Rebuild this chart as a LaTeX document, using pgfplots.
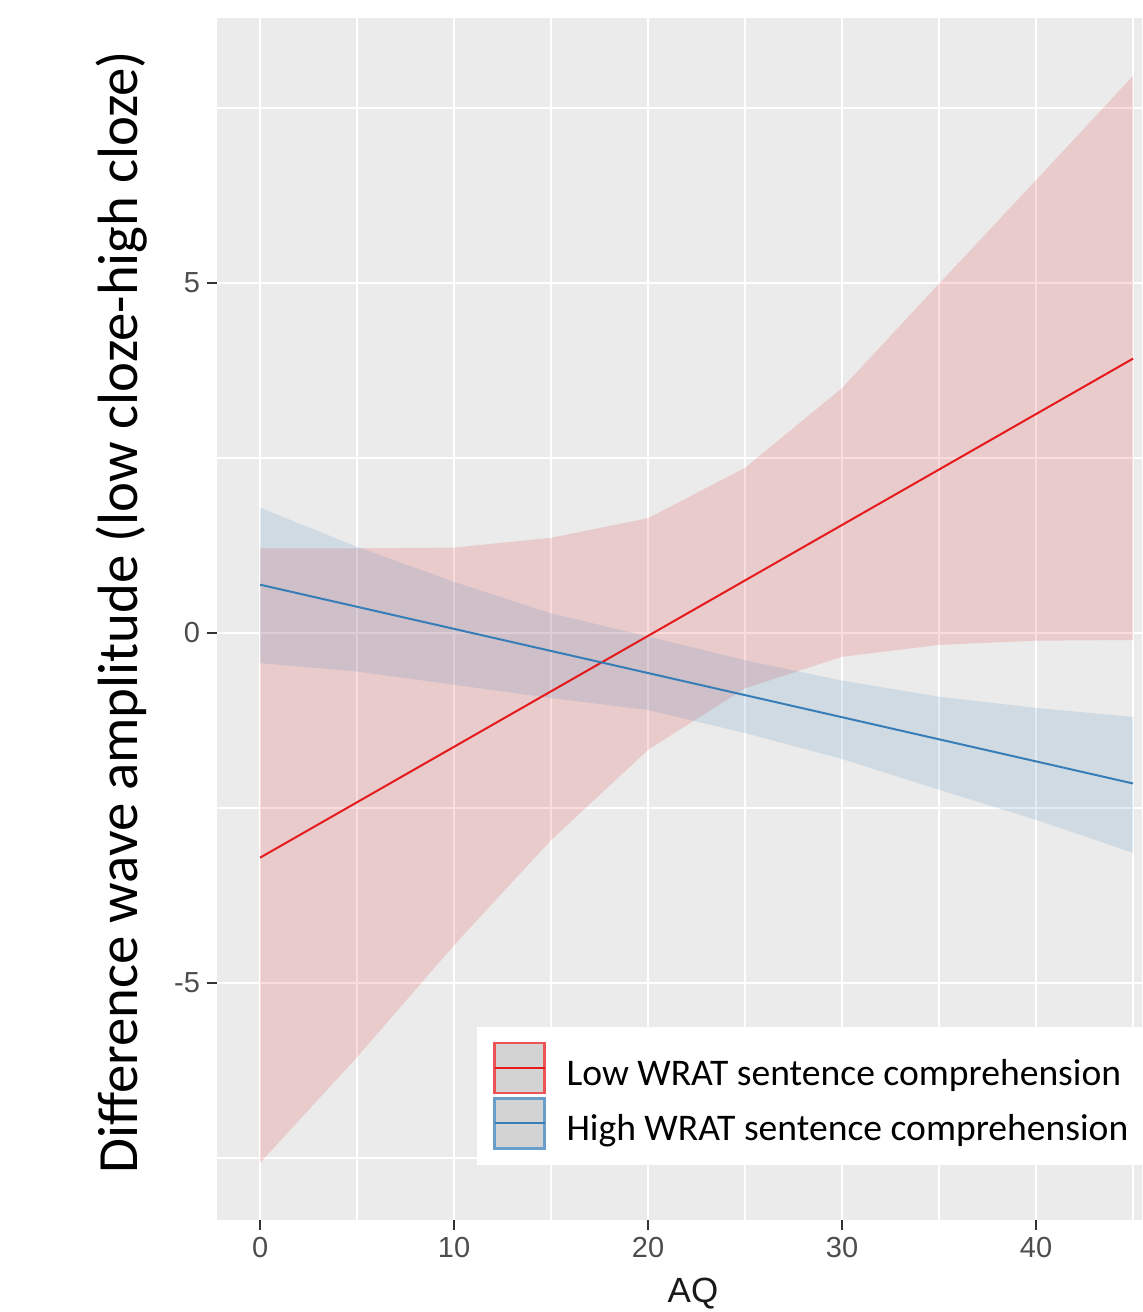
\documentclass[border=0pt]{standalone}
\usepackage{fontspec}
\setmainfont{Liberation Sans}
\newfontfamily\carlito{Carlito}
\usepackage{pgfplots}
\pgfplotsset{compat=1.18}
\definecolor{panel}{HTML}{EBEBEB}
\definecolor{lred}{HTML}{E41A1C}
\definecolor{lblue}{HTML}{377EB8}
\definecolor{tickc}{HTML}{4D4D4D}
\definecolor{tickm}{HTML}{333333}
\definecolor{keyfill}{HTML}{D3D3D3}
\begin{document}
\begin{tikzpicture}
\useasboundingbox (-108.5pt,-46pt) rectangle (462.5pt,610pt);
\begin{axis}[
  scale only axis, width=462.5pt, height=601pt,
  xmin=-2.22, xmax=45.46, ymin=-8.386, ymax=8.786,
  axis background/.style={fill=panel},
  axis line style={draw=none},
  xtick={0,10,20,30,40}, xticklabels={0,10,20,30,40},
  ytick={-5,0,5}, yticklabels={-5,0,5},
  minor xtick={5,15,25,35,45}, minor ytick={-7.5,-2.5,2.5,7.5},
  grid=both,
  major grid style={white, line width=1.4pt},
  minor grid style={white, line width=1.1pt},
  tick align=outside, major tick length=5pt, minor tick length=0pt,
  tick style={tickm, line width=1pt},
  xtick pos=left, ytick pos=left,
  tick label style={font=\fontsize{14.5}{16}\selectfont, text=tickc},
  xlabel={AQ},
  xlabel style={at={(axis description cs:0.5146,-0.0608)}, anchor=center, font=\fontsize{17.5}{20}\selectfont, text=black!90},
  ylabel={Difference wave amplitude (low cloze-high cloze)},
  ylabel style={at={(axis description cs:-0.1027,0.5058)}, anchor=center, font=\carlito\fontsize{28.4}{32}\selectfont},
  legend style={at={(axis description cs:0.2811,0.0458)}, anchor=south west, draw=none, fill=white,
    font=\carlito\fontsize{18.8}{22}\selectfont, inner xsep=8pt, inner ysep=7.5pt, row sep=1.5pt},
  legend cell align=left,
]
% red ribbon
\addplot[draw=none, fill=lred, fill opacity=0.15, forget plot] coordinates {
 (0,1.21) (5,1.21) (10,1.22) (15,1.36) (20,1.64) (25,2.36) (30,3.5) (35,4.99) (40,6.47) (45,7.96)
 (45,-0.1) (40,-0.11) (35,-0.17) (30,-0.34) (25,-0.79) (20,-1.67) (15,-2.96) (10,-4.46) (5,-6.06) (0,-7.57) (0,1.21)};
% blue ribbon
\addplot[draw=none, fill=lblue, fill opacity=0.15, forget plot] coordinates {
 (0,1.79) (5,1.23) (10,0.73) (15,0.28) (20,-0.05) (25,-0.39) (30,-0.68) (35,-0.91) (40,-1.07) (45,-1.2)
 (45,-3.14) (40,-2.67) (35,-2.24) (30,-1.8) (25,-1.43) (20,-1.1) (15,-0.93) (10,-0.74) (5,-0.55) (0,-0.43) (0,1.79)};
% lines
\addplot[lred, line width=1pt, forget plot] coordinates {(0,-3.21) (45,3.92)};
\addplot[lblue, line width=1pt, forget plot] coordinates {(0,0.69) (45,-2.15)};
% legend
\addlegendimage{legend image code/.code={
  \path[draw=none, fill=none] (0pt,3pt) -- (34pt,3pt);
  \draw[draw=lred!75, fill=keyfill, line width=1.1pt] (0pt,-9.5pt) rectangle (25pt,15.5pt);
  \draw[lred, line width=1pt] (0pt,3pt) -- (25pt,3pt);}}
\addlegendentry{Low WRAT sentence comprehension}
\addlegendimage{legend image code/.code={
  \path[draw=none, fill=none] (0pt,3pt) -- (34pt,3pt);
  \draw[draw=lblue!75, fill=keyfill, line width=1.1pt] (0pt,-9.5pt) rectangle (25pt,15.5pt);
  \draw[lblue, line width=1pt] (0pt,3pt) -- (25pt,3pt);}}
\addlegendentry{High WRAT sentence comprehension}
\end{axis}
\end{tikzpicture}
\end{document}
